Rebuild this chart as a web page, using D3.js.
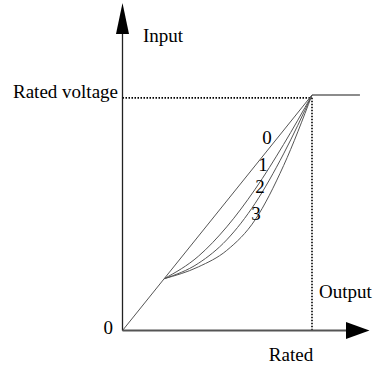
<!DOCTYPE html>
<html>
<head>
<meta charset="utf-8">
<script src="https://cdn.jsdelivr.net/npm/d3@7"></script>
<style>
  html, body { margin: 0; padding: 0; background: #fff; }
  svg { display: block; }
  text { font-family: "Liberation Serif", "Times New Roman", serif; font-size: 19px; fill: #000; }
</style>
</head>
<body>
<svg id="chart" width="375" height="369"></svg>
<script>
// ---- data (normalised: output on x, input on y; rated = 1) ----
const curveNames = ["0", "1", "2", "3"];
const curve0 = [[0, 0], [0.22, 0.22], [1, 1]];
const curve1 = [[0.22, 0.22], [0.4, 0.315], [0.55, 0.44], [0.7, 0.6], [0.85, 0.79], [1, 1]];
const curve2 = [[0.22, 0.22], [0.4, 0.285], [0.55, 0.385], [0.7, 0.54], [0.85, 0.75], [1, 1]];
const curve3 = [[0.22, 0.22], [0.4, 0.27], [0.55, 0.34], [0.7, 0.47], [0.85, 0.70], [1, 1]];
const flatSegment = [[1, 1], [1.253, 1]];
const ratedGuide = 0.988;
// label anchor points (data coords, baseline of each number)
const labelPos = [[0.763, 0.792], [0.742, 0.677], [0.726, 0.584], [0.704, 0.469]];
const axisLabels = { input: "Input", output: "Output", ratedV: "Rated voltage", rated: "Rated", zero: "0" };

const svg = d3.select("#chart");
const x = d3.scaleLinear().domain([0, 1]).range([122.5, 312]);
const y = d3.scaleLinear().domain([0, 1]).range([330.5, 95]);

// dotted guides
svg.append("line")
  .attr("x1", x(0)).attr("x2", x(1))
  .attr("y1", y(ratedGuide)).attr("y2", y(ratedGuide))
  .attr("stroke", "#000").attr("stroke-width", 1.6).attr("stroke-dasharray", "1.5,1.5");
svg.append("line")
  .attr("x1", x(1)).attr("x2", x(1))
  .attr("y1", y(ratedGuide)).attr("y2", y(0))
  .attr("stroke", "#000").attr("stroke-width", 1.6).attr("stroke-dasharray", "1.5,1.5");

// curves
const line = d3.line().x(d => x(d[0])).y(d => y(d[1])).curve(d3.curveMonotoneX);
const straight = d3.line().x(d => x(d[0])).y(d => y(d[1]));
svg.append("path").attr("d", straight(curve0)).attr("fill", "none").attr("stroke", "#555").attr("stroke-width", 1);
[curve1, curve2, curve3].forEach(c => {
  svg.append("path").attr("d", line(c)).attr("fill", "none").attr("stroke", "#555").attr("stroke-width", 1);
});
svg.append("path").attr("d", straight(flatSegment)).attr("fill", "none").attr("stroke", "#666").attr("stroke-width", 1.6);

// axes
svg.append("line").attr("x1", x(0)).attr("x2", x(0)).attr("y1", y(0)).attr("y2", 30)
  .attr("stroke", "#222").attr("stroke-width", 1.3);
svg.append("line").attr("x1", x(0)).attr("x2", 350).attr("y1", y(0)).attr("y2", y(0))
  .attr("stroke", "#555").attr("stroke-width", 2);
// arrow heads
svg.append("path")
  .attr("d", `M${x(0)},3 L${x(0) + 6.5},34 L${x(0) - 6.5},34 Z`).attr("fill", "#000");
svg.append("path")
  .attr("d", `M369.5,${y(0)} L346,${y(0) - 8.5} L346,${y(0) + 8.5} Z`).attr("fill", "#000");

// labels
svg.append("text").attr("x", 143).attr("y", 42).text(axisLabels.input);
svg.append("text").attr("x", 118).attr("y", 98).attr("text-anchor", "end").text(axisLabels.ratedV);
svg.append("text").attr("x", 113).attr("y", 334).attr("text-anchor", "end").text(axisLabels.zero);
svg.append("text").attr("x", 319).attr("y", 298).text(axisLabels.output);
svg.append("text").attr("x", 291).attr("y", 361).attr("text-anchor", "middle").text(axisLabels.rated);

curveNames.forEach((n, i) => {
  svg.append("text")
    .attr("x", x(labelPos[i][0]))
    .attr("y", y(labelPos[i][1]))
    .attr("text-anchor", "middle")
    .text(n);
});
</script>
</body>
</html>
